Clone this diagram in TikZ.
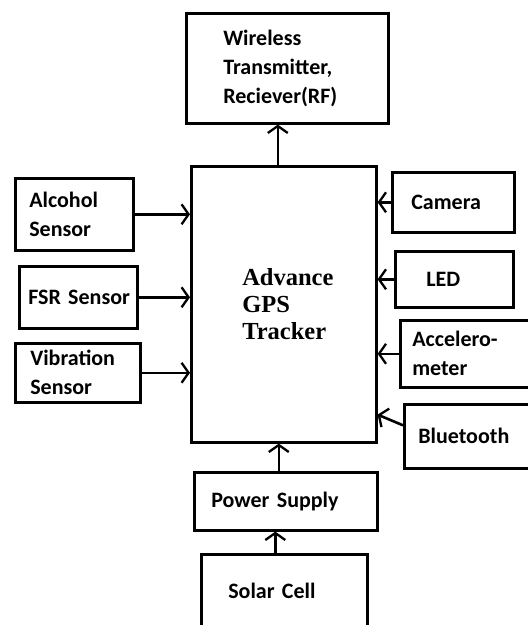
\documentclass[tikz,border=0pt]{standalone}
\usepackage{fontspec}
\setmainfont{Carlito}
\newfontfamily\trkfont{Liberation Serif}
\usetikzlibrary{arrows.meta, calc, positioning}

\tikzset{
    blk/.style={draw, line width=2.6pt, anchor=north west, align=left,
        font=\bfseries\fontsize{22}{29}\selectfont, inner ysep=0pt},
    link/.style={line width=2.6pt, -{Straight Barb[length=7pt, width=20pt, line width=2.3pt]}}
}

\begin{document}
\begin{tikzpicture}[x=1pt, y=-1pt]
    \useasboundingbox (0,0) rectangle (528,625);

    % main unit
    \node[blk, minimum width=185, minimum height=276, inner xsep=51, text width=83,
        font=\trkfont\bfseries\fontsize{24.5}{27}\selectfont] (trk) at (190,165) {Advance\\GPS\\Tracker};
    \node[blk, minimum width=202, minimum height=110, inner xsep=37, text width=128] (wls) at (185,12) {Wireless\\Transmitter,\\Reciever(RF)};

    % sensors on the left
    \node[blk, minimum width=118, minimum height=72, inner xsep=14, text width=90] (alc) at (14,177) {Alcohol\\Sensor};
    \node[blk, minimum width=118, minimum height=62, inner xsep=9, text width=100] (fsr) at (18,265) {\mbox{FSR Sensor}};
    \node[blk, minimum width=125, minimum height=59, inner xsep=15, text width=95] (vib) at (14,342) {Vibration\\Sensor};

    % modules on the right
    \node[blk, minimum width=122, minimum height=60, inner xsep=19, text width=84] (cam) at (391,171) {Camera};
    \node[blk, minimum width=118, minimum height=56, inner xsep=31, text width=56] (led) at (394,250) {LED};
    \node[blk, minimum width=140, minimum height=67, inner xsep=12, text width=116] (acc) at (399,319) {Accelero-\\meter};
    \node[blk, minimum width=140, minimum height=64, inner xsep=14, text width=112] (blt) at (403,403) {Bluetooth};

    % supply
    \node[blk, minimum width=183, minimum height=58, inner xsep=17, text width=149] (pwr) at (193,471) {\mbox{Power Supply}};
    \node[blk, minimum width=166, minimum height=74, inner xsep=27, text width=112] (sol) at (200,553) {\mbox{Solar Cell}};

    \draw[link] ([xshift=-6]trk.north) -- ([xshift=-6]trk.north |- wls.south);
    \draw[link] (alc.east) -- (alc.east -| trk.west);
    \draw[link] (fsr.east) -- (fsr.east -| trk.west);
    \draw[link] (vib.east) -- (vib.east -| trk.west);
    \draw[link] (cam.west) -- (cam.west -| trk.east);
    \draw[link] (led.west) -- (led.west -| trk.east);
    \draw[link] (acc.west) -- (acc.west -| trk.east);
    \draw[link] ([yshift=11]blt.west) -- ($(trk.south east)+(0,-29)$);
    \draw[link] ([xshift=-7]pwr.north) -- ([xshift=-7]pwr.north |- trk.south);
    \draw[link] ([xshift=-9]sol.north) -- ([xshift=-9]sol.north |- pwr.south);
\end{tikzpicture}
\end{document}
